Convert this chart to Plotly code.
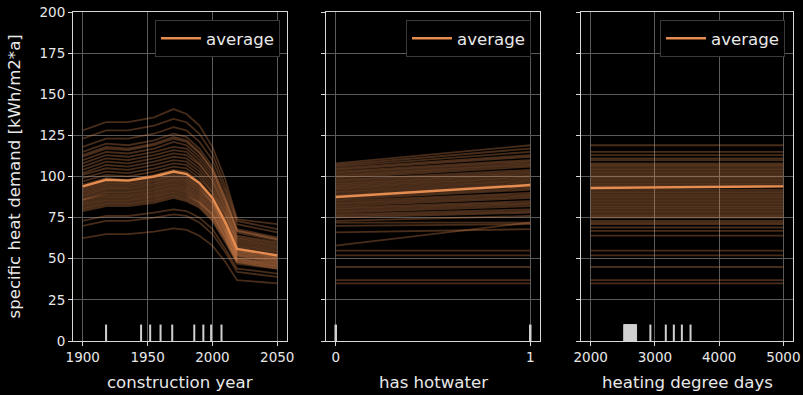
import plotly.graph_objects as go

# ---------------- data ----------------
year_grid = [1900, 1918, 1935, 1955, 1970, 1980, 1990, 2000, 2010, 2019, 2050]
year_avg = [94, 98, 97.5, 100, 103, 101.5, 96, 87, 72, 56, 52]
year_ice = [
    [128, 133, 133, 136, 141, 138, 131, 118, 98, 74, 71],
    [123, 128, 128, 131, 135, 133, 126, 114, 94, 73, 68],
    [118, 123, 123, 126, 130, 128, 121, 110, 91, 71, 66],
    [115, 120, 119, 122, 126, 124, 117, 106, 88, 68, 63],
    [113, 118, 117, 120, 124, 122, 115, 104, 86, 67, 62],
    [112, 117, 116, 119, 123, 121, 114, 104, 86, 67, 62],
    [110, 115, 114, 117, 121, 119, 112, 102, 84, 66, 61],
    [108, 113, 112, 115, 118, 117, 110, 100, 83, 64, 60],
    [106, 111, 110, 113, 116, 115, 108, 98, 81, 63, 59],
    [104, 109, 108, 111, 114, 113, 107, 97, 80, 62, 58],
    [102, 107, 106, 109, 112, 111, 105, 95, 78, 61, 57],
    [101, 105, 104, 107, 110, 109, 103, 93, 77, 60, 56],
    [99, 103, 102, 105, 108, 107, 101, 91, 76, 59, 55],
    [97, 101, 100, 103, 106, 105, 99, 90, 74, 58, 54],
    [95, 99, 98, 101, 104, 103, 97, 88, 73, 57, 53],
    [94, 98, 98, 100, 103, 102, 96, 87, 72, 56, 52],
    [93, 97, 97, 99, 102, 100, 95, 86, 71, 55, 51],
    [92, 96, 96, 98, 101, 99, 94, 85, 71, 55, 51],
    [91, 95, 95, 97, 100, 98, 93, 84, 70, 54, 50],
    [90, 94, 94, 96, 99, 97, 92, 84, 69, 54, 50],
    [89, 93, 93, 95, 98, 96, 91, 83, 68, 53, 49],
    [88, 92, 92, 94, 97, 95, 90, 82, 68, 53, 49],
    [87, 91, 91, 93, 96, 94, 89, 81, 67, 52, 48],
    [86, 90, 90, 92, 95, 93, 88, 80, 66, 52, 48],
    [86, 89, 89, 91, 94, 92, 87, 79, 66, 51, 47],
    [85, 88, 88, 90, 93, 91, 86, 78, 65, 50, 47],
    [84, 87, 87, 89, 92, 90, 85, 77, 64, 50, 46],
    [83, 86, 86, 88, 91, 89, 84, 77, 63, 49, 46],
    [82, 85, 85, 87, 90, 88, 84, 76, 63, 49, 45],
    [81, 84, 84, 86, 89, 87, 83, 75, 62, 48, 45],
    [80, 83, 83, 85, 88, 86, 82, 74, 61, 48, 44],
    [79, 82, 82, 84, 87, 85, 81, 73, 60, 47, 44],
    [73, 76, 76, 78, 80, 79, 75, 68, 56, 44, 41],
    [70, 73, 73, 75, 77, 76, 72, 65, 54, 42, 39],
    [62.5, 65, 65, 66.5, 68.5, 67.5, 64, 58, 48, 37, 35],
]
year_deciles = [1918, 1945, 1952, 1960, 1969, 1986, 1993, 1999, 2007]

hw_grid = [0, 1]
hw_avg = [87.5, 94.8]
hw_ice = [
    [108, 119], [107, 117], [106, 115], [105, 113], [104, 112], [103, 110],
    [102, 109], [101, 108], [100, 107], [99, 106], [98, 104], [97, 103],
    [96, 102], [95, 101], [94, 100], [93, 99], [92, 98], [91, 97], [90, 96],
    [89, 95], [88, 94], [87, 93], [86, 92], [85, 90], [84, 89], [83, 88],
    [82, 87], [81, 85], [80, 84], [79, 83], [78, 82], [77, 80], [76, 79],
    [75, 78], [73, 76], [72, 72], [70, 71], [66, 68], [58, 72], [55, 55],
    [52, 52], [45, 45], [37, 37], [35, 35],
]
hw_deciles = [0, 1]

hdd_grid = [2000, 5000]
hdd_avg = [93, 94]
hdd_ice = [119, 115, 113, 111, 110, 108, 107, 106, 105, 104, 103, 102, 101,
           100, 99, 98, 97, 96, 95, 94, 92, 91, 90, 89, 88, 87, 86, 85, 84,
           83, 82, 81, 80, 79, 78, 77, 76, 75, 73, 72, 71, 69, 67, 64, 55,
           52, 45, 37, 35]
hdd_decile_cluster = [2515, 2580, 2645, 2715]
hdd_deciles = [2930, 3170, 3295, 3420, 3555]

y_ticks = [0, 25, 50, 75, 100, 125, 150, 175, 200]
year_ticks = [1900, 1950, 2000, 2050]
hw_ticks = [0, 1]
hdd_ticks = [2000, 3000, 4000, 5000]

# ---------------- style ----------------
ICE_COLOR = "rgba(224,138,80,0.32)"
AVG_COLOR = "#e58c50"
RUG_COLOR = "#d0d0d0"
TXT = "#e8e8e8"
FONT = "DejaVu Sans"
FS = 13.5      # tick labels
FS_LAB = 16.6  # axis labels and legend
RUG_H = 10  # 5% of the y range

fig = go.Figure()

def add_panel(xa, ya, grid, ice, avg, legend_name):
    for line in ice:
        fig.add_trace(go.Scatter(x=grid, y=line, mode="lines", xaxis=xa, yaxis=ya,
                                 line=dict(color=ICE_COLOR, width=1.8),
                                 showlegend=False, hoverinfo="skip"))
    fig.add_trace(go.Scatter(x=grid, y=avg, mode="lines", xaxis=xa, yaxis=ya,
                             name="average", legend=legend_name,
                             line=dict(color=AVG_COLOR, width=2.4)))

def add_rug(xa, ya, vals, width):
    xs, ys = [], []
    for v in vals:
        xs += [v, v, None]
        ys += [0, RUG_H, None]
    fig.add_trace(go.Scatter(x=xs, y=ys, mode="lines", xaxis=xa, yaxis=ya,
                             line=dict(color=RUG_COLOR, width=width),
                             showlegend=False, hoverinfo="skip"))

add_panel("x", "y", year_grid, year_ice, year_avg, "legend")
add_rug("x", "y", year_deciles, 2)

add_panel("x2", "y2", hw_grid, hw_ice, hw_avg, "legend2")
add_rug("x2", "y2", hw_deciles, 2.5)

add_panel("x3", "y3", hdd_grid, [[v, v] for v in hdd_ice], hdd_avg, "legend3")
add_rug("x3", "y3", hdd_deciles, 2)
lo, hi = min(hdd_decile_cluster), max(hdd_decile_cluster)
fig.add_trace(go.Scatter(x=[lo, lo, hi, hi, lo], y=[0, RUG_H, RUG_H, 0, 0],
                         mode="lines", fill="toself", fillcolor=RUG_COLOR,
                         line=dict(color=RUG_COLOR, width=1), xaxis="x3", yaxis="y3",
                         showlegend=False, hoverinfo="skip"))

W, H = 803, 395
ydom = [(H - 341) / H, (H - 12) / H]

axis_common = dict(showline=True, mirror=True, linecolor="#d8d8d8", linewidth=1,
                   showgrid=True, gridcolor="#5a5a5a", gridwidth=1,
                   ticks="outside", ticklen=4, tickcolor="#d8d8d8",
                   tickfont=dict(family=FONT, size=FS, color=TXT),
                   zeroline=False, automargin=False)

def xax(domain, rng, ticks):
    d = dict(axis_common)
    d.update(domain=domain, range=rng, tickvals=ticks, ticktext=[str(t) for t in ticks])
    return d

leg_common = dict(bgcolor="#000000", bordercolor="#3a3a3a", borderwidth=1,
                  font=dict(family=FONT, size=FS_LAB, color=TXT),
                  xanchor="right", yanchor="top", y=1 - 20 / H,
                  tracegroupgap=0, itemwidth=40)

ann_font = dict(family=FONT, size=FS_LAB, color=TXT)
xt_y = (H - 382) / H

fig.update_layout(
    width=W, height=H,
    margin=dict(l=0, r=0, t=0, b=0, autoexpand=False),
    paper_bgcolor="#000000", plot_bgcolor="#000000",
    font=dict(family=FONT, size=FS, color=TXT),
    xaxis={**xax([73 / W, 287 / W], [1892.5, 2057.5], year_ticks), "anchor": "y"},
    xaxis2={**xax([326 / W, 540 / W], [-0.05, 1.05], hw_ticks), "anchor": "y2"},
    xaxis3={**xax([581 / W, 793 / W], [1850, 5150], hdd_ticks), "anchor": "y3"},
    yaxis={**axis_common, "domain": ydom, "range": [0, 200], "tickvals": y_ticks, "anchor": "x"},
    yaxis2={**axis_common, "domain": ydom, "range": [0, 200], "tickvals": y_ticks,
            "showticklabels": False, "anchor": "x2", "matches": "y"},
    yaxis3={**axis_common, "domain": ydom, "range": [0, 200], "tickvals": y_ticks,
            "showticklabels": False, "anchor": "x3", "matches": "y"},
    legend={**leg_common, "x": 280 / W},
    legend2={**leg_common, "x": 531 / W},
    legend3={**leg_common, "x": 785 / W},
    annotations=[
        dict(text="specific heat demand [kWh/m2*a]", x=14 / W, y=(ydom[0] + ydom[1]) / 2,
             xref="paper", yref="paper", textangle=-90, showarrow=False,
             xanchor="center", yanchor="middle", font=ann_font),
        dict(text="construction year", x=180 / W, y=xt_y, xref="paper", yref="paper",
             xanchor="center", yanchor="middle", showarrow=False, font=ann_font),
        dict(text="has hotwater", x=433 / W, y=xt_y, xref="paper", yref="paper",
             xanchor="center", yanchor="middle", showarrow=False, font=ann_font),
        dict(text="heating degree days", x=687 / W, y=xt_y, xref="paper", yref="paper",
             xanchor="center", yanchor="middle", showarrow=False, font=ann_font),
    ],
)

fig.write_html("out.html", config={"displayModeBar": False},
               post_script="document.body.style.margin='0';document.body.style.background='#000';")
